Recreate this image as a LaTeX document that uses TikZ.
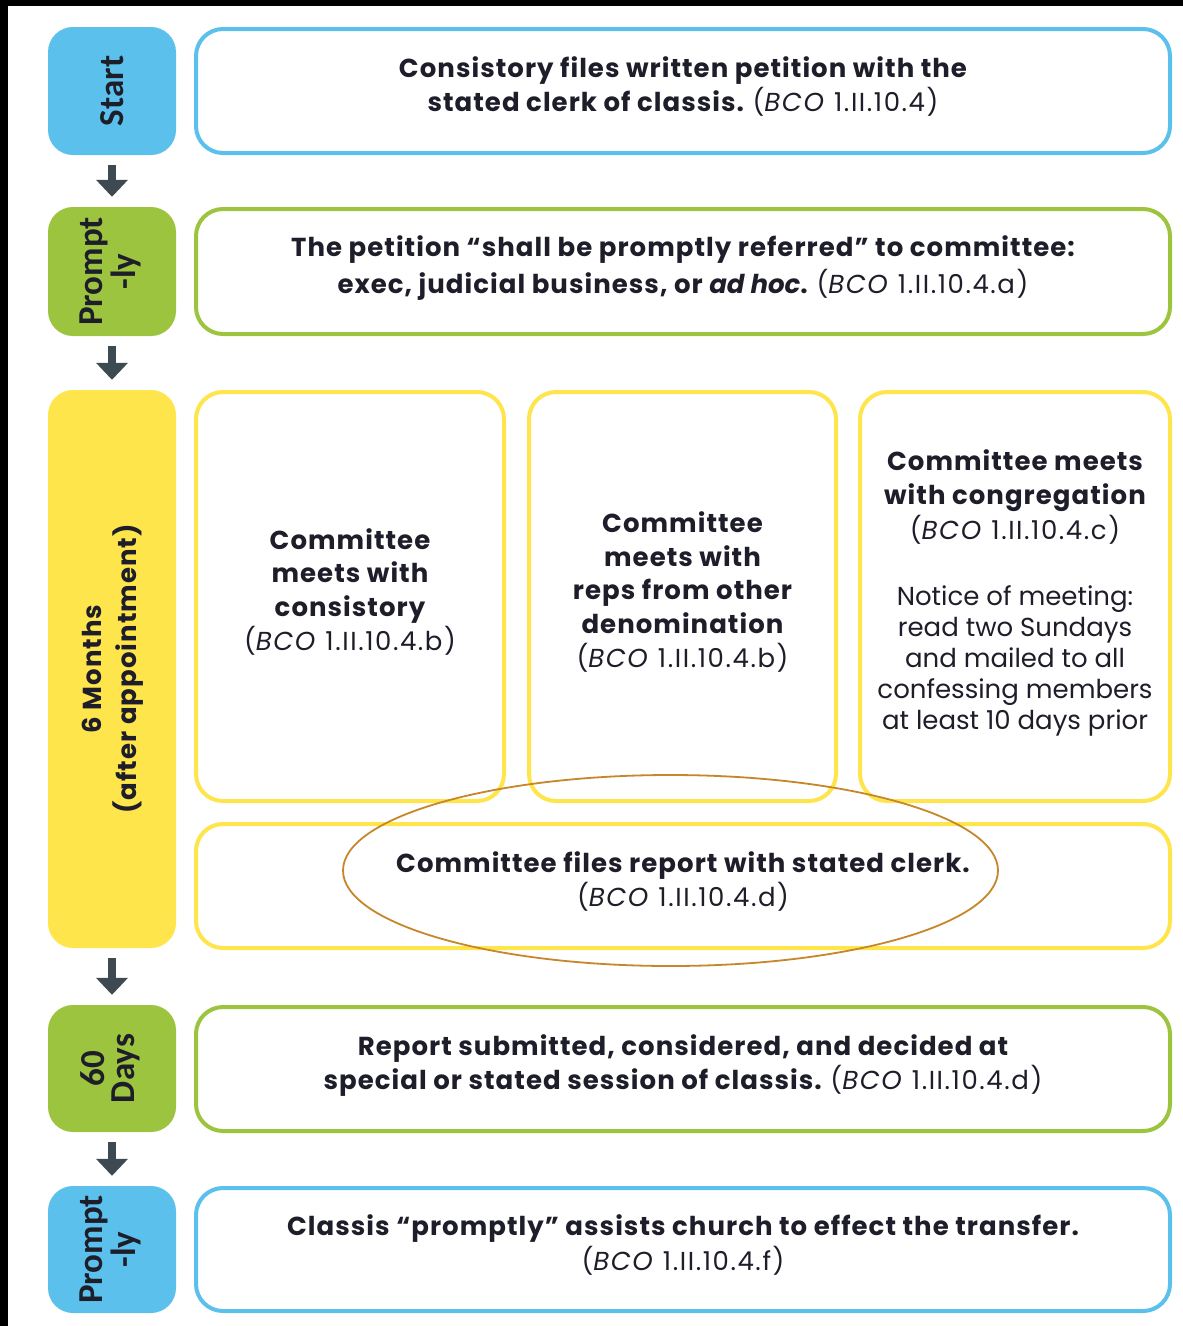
\documentclass[tikz,border=0pt]{standalone}
\usepackage{fontspec}
\setmainfont{Poppins}[BoldFeatures={LetterSpace=4}]
\newfontfamily\labfont{Carlito}
\usetikzlibrary{arrows.meta}
\definecolor{cblue}{HTML}{5BC0EB}
\definecolor{cgreen}{HTML}{9DC43E}
\definecolor{cyellow}{HTML}{FFE54C}
\definecolor{carrow}{HTML}{3E4A52}
\definecolor{ctext}{HTML}{1E1E2A}
\definecolor{cring}{HTML}{C8862A}
\tikzset{
  tag/.style={rounded corners=25pt, minimum width=128pt, inner sep=0pt, text=ctext, font=\labfont\bfseries\fontsize{35}{35}\selectfont},
  panel/.style={draw, line width=4pt, rounded corners=27pt, inner sep=0pt, fill=white, text=ctext, font=\fontsize{26}{34}\selectfont},
  arr/.style={draw=carrow, line width=8pt, shorten <=10pt, shorten >=10pt, -{Triangle[width=31pt,length=17pt]}},
}
\newcommand{\bco}[1]{{\mdseries\addfontfeature{LetterSpace=6}(\textit{BCO} #1)}}
\newcommand{\tx}[1]{\raisebox{0pt}[\height][\dimexpr\depth+7pt\relax]{\begin{tabular}{@{}c@{}}#1\end{tabular}}}
\begin{document}
\begin{tikzpicture}[x=1pt,y=-1pt]
\fill[black] (0,0) rectangle (1183,1326);
\fill[white] (8,6) rectangle (1183,1326);
% left tags
\node[tag, fill=cblue, minimum height=128pt] (t1) at (112,91) {\rotatebox{90}{Start}};
\node[tag, fill=cgreen, minimum height=129pt] (t2) at (112,271.5) {\rotatebox{90}{\begin{tabular}{@{}c@{}}Prompt\\[-3pt]-ly\end{tabular}}};
\node[tag, fill=cyellow, minimum height=558pt, font=\bfseries\fontsize{26}{35}\selectfont] (t3) at (112,669) {\rotatebox{90}{\begin{tabular}{@{}c@{}}6 Months\\(after appointment)\end{tabular}}};
\node[tag, fill=cgreen, minimum height=127pt] (t4) at (112,1068.5) {\rotatebox{90}{\begin{tabular}{@{}c@{}}60\\[-5pt]Days\end{tabular}}};
\node[tag, fill=cblue, minimum height=127pt] (t5) at (112,1249.5) {\rotatebox{90}{\begin{tabular}{@{}c@{}}Prompt\\[-3pt]-ly\end{tabular}}};
% arrows
\draw[arr] (t1) -- (t2);
\draw[arr] (t2) -- (t3);
\draw[arr] (t3) -- (t4);
\draw[arr] (t4) -- (t5);
% panels
\node[panel, draw=cblue, minimum width=974pt, minimum height=124pt] (b1) at (683,91)
  {\tx{\bfseries Consistory files written petition with the\\ \bfseries stated clerk of classis. \bco{1.II.10.4}}};
\node[panel, draw=cgreen, minimum width=974pt, minimum height=125pt] (b2) at (683,271.5)
  {\tx{\bfseries The petition “shall be promptly referred” to committee:\\[2pt] \bfseries exec, judicial business, or \textit{ad hoc}. \bco{1.II.10.4.a}}};
\node[panel, draw=cyellow, minimum width=308pt, minimum height=409pt] (c1) at (350,596.5)
  {\tx{\bfseries Committee\\[-0.5pt] \bfseries meets with\\[-0.5pt] \bfseries consistory\\[-0.5pt] \bco{1.II.10.4.b}}};
\node[panel, draw=cyellow, minimum width=307pt, minimum height=409pt] (c2) at (682.5,596.5)
  {\tx{\bfseries Committee\\[-0.5pt] \bfseries meets with\\[-0.5pt] \bfseries reps from other\\[-0.5pt] \bfseries denomination\\[-0.5pt] \bco{1.II.10.4.b}}};
\node[panel, draw=cyellow, minimum width=310pt, minimum height=409pt] (c3) at (1015,596.5)
  {\tx{\bfseries Committee meets\\ \bfseries with congregation\\ \bco{1.II.10.4.c}\\[32pt] Notice of meeting:\\[-3pt] read two Sundays\\[-3pt] and mailed to all\\[-3pt] confessing members\\[-3pt] at least 10 days prior}};
\node[panel, draw=cyellow, minimum width=974pt, minimum height=124pt] (b3) at (683,886)
  {\tx{\bfseries Committee files report with stated clerk.\\ \bco{1.II.10.4.d}}};
\node[panel, draw=cgreen, minimum width=974pt, minimum height=124pt] (b4) at (683,1069)
  {\tx{\bfseries Report submitted, considered, and decided at\\ \bfseries special or stated session of classis. \bco{1.II.10.4.d}}};
\node[panel, draw=cblue, minimum width=974pt, minimum height=123pt] (b5) at (683,1249.5)
  {\tx{\bfseries Classis “promptly” assists church to effect the transfer.\\ \bco{1.II.10.4.f}}};
% highlight ring
\draw[cring, line width=1.8pt] (670.5,870.5) ellipse [x radius=327.5, y radius=95.5];
\end{tikzpicture}
\end{document}
